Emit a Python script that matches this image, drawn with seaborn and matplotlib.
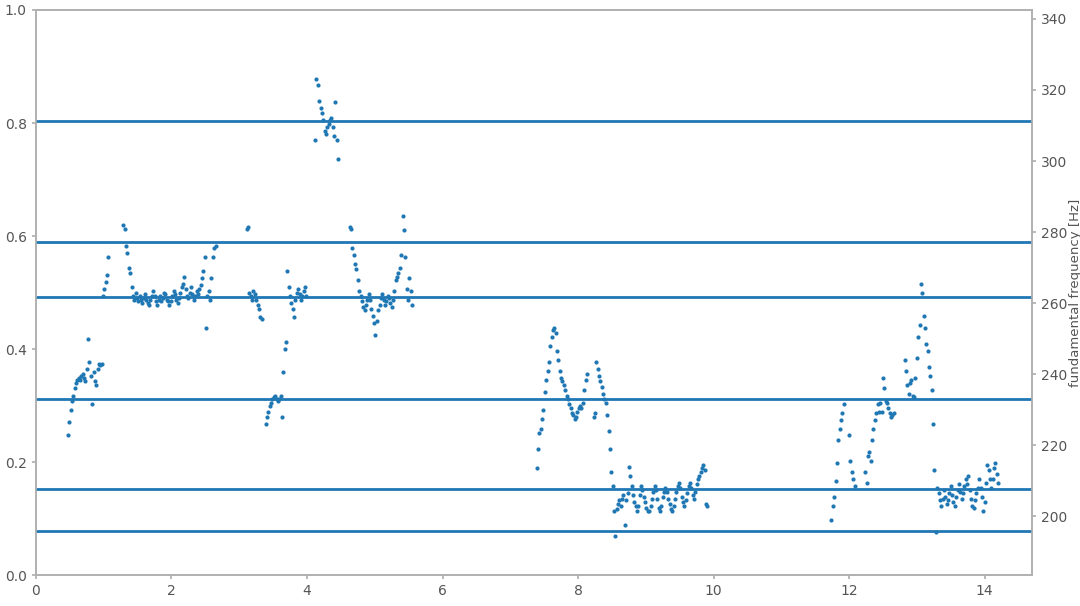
import numpy as np
import pandas as pd
import matplotlib
matplotlib.use('Agg')
import matplotlib.pyplot as plt
import seaborn as sns

HOP = 0.02  # seconds between pitch frames

# voiced stretches: start time [s] and f0 per frame [Hz]
seg_a1_start = 0.47
seg_a1_f0 = [223.0, 226.5, 230.0, 232.5, 234.0, 236.0, 237.5, 238.5, 239.0, 238.5,
             239.5, 240.0, 239.0, 238.0, 241.5, 250.0, 243.5, 239.5, 231.5, 240.5,
             238.0, 237.0, 241.5, 243.0, 242.5, 243.0, 262.0, 264.0, 266.0, 268.0,
             273.0]

seg_a2_start = 1.29
seg_a2_f0 = [282.0, 281.0, 276.0, 274.0, 270.0, 268.5, 264.5, 262.0, 261.0, 263.0,
             261.5, 260.5, 262.0, 261.0, 260.0, 261.5, 262.5, 261.0, 260.0, 259.5,
             261.0, 262.0, 263.5, 262.0, 260.5, 259.5, 261.0, 262.0, 260.5, 261.5,
             263.0, 262.5, 261.0, 260.5, 259.5, 260.5, 262.0, 263.5, 262.5, 261.0,
             260.0, 261.5, 263.0, 264.5, 265.5, 267.5, 264.0, 262.0, 261.5, 263.0,
             264.5, 262.5, 261.0, 262.0, 263.5, 262.5, 264.0, 265.0, 267.0, 269.0,
             273.0, 253.0, 262.0, 263.5, 261.0, 267.0, 273.0, 275.5, 276.0]

seg_b1_start = 3.11
seg_b1_f0 = [281.0, 281.5, 263.0, 262.0, 261.0, 263.5, 262.5, 261.0, 259.5, 258.5,
             256.0, 255.5]

seg_b2_start = 3.39
seg_b2_f0 = [226.0, 228.0, 229.5, 231.0, 232.0, 233.0, 233.5, 234.0, 233.0, 232.5,
             233.0, 234.0, 228.0, 240.5, 247.0, 249.0, 269.0, 264.5, 262.0, 260.0,
             258.5, 256.0, 261.0, 263.0, 264.0, 262.5, 261.0, 262.0, 263.5, 264.5,
             262.0]

seg_b3_start = 4.12
seg_b3_f0 = [306.0, 323.0, 321.5, 317.0, 315.0, 313.5, 311.5, 308.5, 307.5, 309.5,
             310.5, 311.5, 312.0, 309.5, 307.0, 316.5, 306.0, 300.5]

seg_b4_start = 4.63
seg_b4_f0 = [281.5, 281.0, 275.5, 273.5, 271.0, 269.5, 266.5, 263.5, 262.0, 260.5,
             259.0, 258.0, 259.5, 261.0, 262.5, 261.0, 258.5, 256.5, 254.5, 251.0,
             255.0, 258.0, 259.5, 261.5, 262.5, 261.0, 259.5, 260.5, 262.0, 261.5,
             260.0, 259.0, 261.0, 263.5, 266.5, 267.5, 268.5, 270.0, 273.5, 284.5,
             280.5, 273.0, 264.0, 261.0, 267.0, 263.5, 259.5]

seg_c1_start = 7.39
seg_c1_f0 = [213.5, 219.0, 223.5, 224.5, 227.5, 230.0, 235.0, 238.5, 241.0, 243.5,
             248.0, 250.5, 252.5, 253.0, 251.5, 246.5, 244.0, 241.0, 239.0, 238.0,
             237.0, 235.5, 234.0, 233.0, 231.5, 230.5, 229.0, 228.5, 227.5, 228.0,
             229.5, 230.5, 231.0, 230.5, 232.0, 235.5, 238.5, 240.0]

seg_c2_start = 8.23
seg_c2_f0 = [228.0, 229.0, 243.5, 241.5, 239.5, 238.0, 236.5, 234.5, 233.0, 232.0,
             228.5, 224.0, 219.0, 212.5, 208.5, 201.5, 194.5,
             202.0, 203.5, 204.5, 203.0, 205.0, 206.0, 197.5, 204.5, 206.5, 214.0,
             211.5, 208.5, 206.0, 204.0, 203.0, 201.5, 203.0, 206.0, 208.5, 207.5,
             205.5, 204.0, 202.5, 201.5, 201.5, 203.0, 205.0, 207.0, 208.5, 207.5,
             205.0, 202.5, 201.5, 203.0, 205.5, 207.0, 208.0, 207.0, 205.0, 203.5,
             202.0, 201.5, 203.0, 205.0, 207.0, 208.5, 209.5, 208.0, 205.5, 204.0,
             203.0, 204.5, 206.5, 208.5, 209.5, 208.0, 206.0, 205.0, 207.0, 209.0,
             210.5, 211.5, 212.5, 213.5, 214.5, 213.0, 203.5, 203.0]

seg_d1_start = 11.74
seg_d1_f0 = [199.0, 203.0, 205.5, 210.0, 215.0, 221.5, 224.5, 227.0, 229.0, 231.5]

seg_d2_start = 12.00
seg_d2_f0 = [223.0, 215.5, 212.5, 210.5, 208.5]

seg_d3_start = 12.24
seg_d3_f0 = [212.5, 209.5, 217.0, 218.0, 215.5, 221.5, 224.5, 227.0, 229.0, 231.5,
             229.5, 232.0, 229.5, 239.0, 236.0, 232.5, 232.0, 230.5, 229.0, 228.0,
             228.5, 229.0]

seg_d4_start = 12.82
seg_d4_f0 = [244.0, 241.0, 237.0, 234.5, 237.5, 238.5, 234.0, 233.5, 239.0, 244.5,
             250.5, 254.0, 265.5, 263.0, 256.5, 253.0, 248.5, 246.5, 242.0, 239.5,
             235.5, 226.0, 213.0, 195.5,
             208.0, 206.5, 204.5, 203.0, 205.0, 207.5, 205.5, 203.5, 204.5, 206.5,
             208.5, 206.0, 204.0, 203.0, 205.5, 207.5, 209.0, 207.0, 205.0, 206.5,
             208.5, 210.5, 209.0, 211.5, 207.5, 205.0, 203.0, 202.5, 204.5, 206.5,
             208.0, 210.5, 208.0, 205.5, 201.5, 204.0, 209.5, 214.5, 213.0, 210.5,
             208.0, 210.5, 213.5, 215.0, 212.0, 209.5]

# reference notes drawn as horizontal lines [Hz]
note_freqs = [196.00, 207.65, 233.08, 261.63, 277.18, 311.13]

segments = [
    (seg_a1_start, seg_a1_f0), (seg_a2_start, seg_a2_f0),
    (seg_b1_start, seg_b1_f0), (seg_b2_start, seg_b2_f0),
    (seg_b3_start, seg_b3_f0), (seg_b4_start, seg_b4_f0),
    (seg_c1_start, seg_c1_f0), (seg_c2_start, seg_c2_f0),
    (seg_d1_start, seg_d1_f0), (seg_d2_start, seg_d2_f0),
    (seg_d3_start, seg_d3_f0), (seg_d4_start, seg_d4_f0),
]


def build_frame(segs):
    parts = []
    for start, f0 in segs:
        t = start + HOP * np.arange(len(f0))
        parts.append(pd.DataFrame({'time': t, 'f0': f0}))
    return pd.concat(parts, ignore_index=True)


def pitch_plot(df, notes, filename='out.png'):
    sns.set_theme(style='ticks')
    plt.rcParams['font.family'] = ['DejaVu Sans']
    plt.rcParams.update({
        'axes.edgecolor': '#b0b0b0',
        'axes.linewidth': 1.2,
        'xtick.color': '#b0b0b0',
        'ytick.color': '#b0b0b0',
        'xtick.labelcolor': '#555555',
        'ytick.labelcolor': '#555555',
        'xtick.labelsize': 10,
        'ytick.labelsize': 10,
        'xtick.major.size': 3,
        'ytick.major.size': 3,
        'axes.labelcolor': '#555555',
        'axes.labelsize': 9.5,
    })

    fig, ax = plt.subplots(figsize=(10.8, 6.06), dpi=100)
    fig.subplots_adjust(left=0.0333, right=0.9556, bottom=0.0505, top=0.9835)
    ax.set_xlim(0, 14.7)
    ax.set_ylim(0, 1)
    ax.set_xticks(np.arange(0, 15, 2))

    ax2 = ax.twinx()
    sns.scatterplot(data=df, x='time', y='f0', ax=ax2, s=9,
                    color='#1f77b4', linewidth=0, legend=False)
    for f in notes:
        ax2.axhline(f, color='#1f77b4', linewidth=2)

    ax2.set_ylim(183.4, 342.5)
    ax2.set_yticks(np.arange(200, 341, 20))
    ax2.set_xlim(0, 14.7)
    ax2.set_xlabel('')
    ax2.set_ylabel('fundamental frequency [Hz]', labelpad=1)

    fig.savefig(filename, dpi=100)
    plt.close(fig)


pitch_plot(build_frame(segments), note_freqs)
